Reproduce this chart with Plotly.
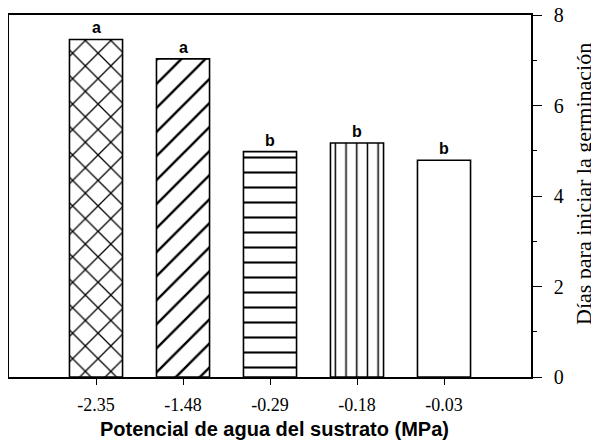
import plotly.graph_objects as go

categories = ["-2.35", "-1.48", "-0.29", "-0.18", "-0.03"]
dias = [7.46, 7.03, 4.98, 5.17, 4.79]
letras = ["a", "a", "b", "b", "b"]
patrones = ["x", "/", "-", "|", ""]
tamanos = [18, 17, 15, 10.7, 8]

x_pos = list(range(len(categories)))

fig = go.Figure()
fig.add_trace(go.Bar(
    x=x_pos,
    y=dias,
    width=0.61,
    marker=dict(
        color="white",
        line=dict(color="black", width=1.6),
        pattern=dict(shape=patrones, size=tamanos, solidity=0.14,
                     fgcolor="black", bgcolor="white", fgopacity=1, fillmode="overlay"),
    ),
    showlegend=False,
    hoverinfo="skip",
))

annotations = []
for xi, yi, t in zip(x_pos, dias, letras):
    annotations.append(dict(
        x=xi, y=yi, xref="x", yref="y", text=t, showarrow=False,
        yanchor="bottom", yshift=1,
        font=dict(family="Liberation Sans", size=16, color="black", weight="bold"),
    ))

annotations.append(dict(
    x=0.5077, y=-0.143, xref="paper", yref="paper",
    text="Potencial de agua del sustrato (MPa)", showarrow=False,
    xanchor="center", yanchor="middle",
    font=dict(family="Liberation Sans", size=20, color="black", weight="bold"),
))
annotations.append(dict(
    x=1.0996, y=0.5331, xref="paper", yref="paper",
    text="Días para iniciar la germinación", showarrow=False,
    textangle=-90, xanchor="center", yanchor="middle",
    font=dict(family="Liberation Serif", size=22, color="black"),
))

fig.update_layout(
    width=591, height=434,
    margin=dict(l=1, r=68, t=7, b=65, autoexpand=False),
    paper_bgcolor="white", plot_bgcolor="white",
    annotations=annotations,
    xaxis=dict(
        range=[-1, 5], automargin=False,
        tickmode="array", tickvals=x_pos, ticktext=categories,
        showline=True, linecolor="black", linewidth=1.6, mirror=True,
        ticks="outside", ticklen=6, tickwidth=1.3, tickcolor="black",
        ticklabelstandoff=5, ticklabeloverflow="allow",
        showgrid=False, zeroline=False,
        tickfont=dict(family="Liberation Serif", size=18, color="black"),
    ),
    yaxis=dict(
        range=[0, 8], side="right", automargin=False,
        tickvals=[0, 2, 4, 6, 8],
        showline=True, linecolor="black", linewidth=1.6, mirror=True,
        ticks="outside", ticklen=9, tickwidth=1.3, tickcolor="black",
        ticklabelstandoff=8, ticklabeloverflow="allow",
        minor=dict(ticks="outside", ticklen=4, tickwidth=1.2, tickcolor="black", dtick=1, showgrid=False),
        showgrid=False, zeroline=False,
        tickfont=dict(family="Liberation Serif", size=20, color="black"),
    ),
)

fig.write_html("out.html")
